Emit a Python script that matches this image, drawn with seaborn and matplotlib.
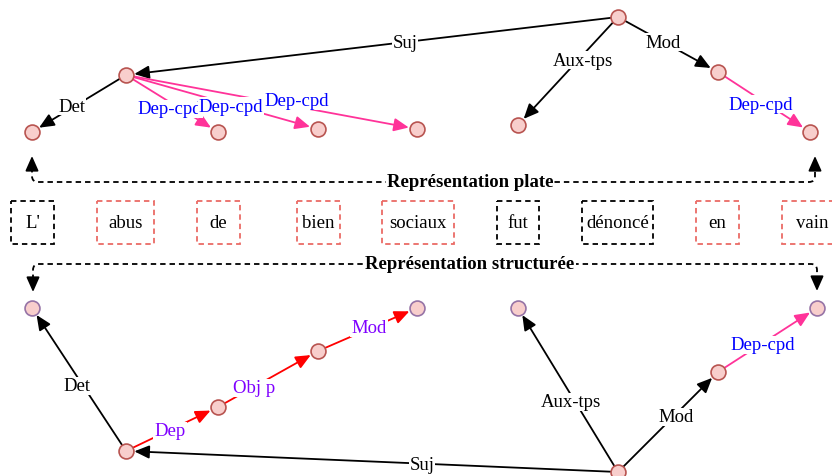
import matplotlib.pyplot as plt
import pandas as pd
import seaborn as sns
from matplotlib.patches import FancyArrowPatch, PathPatch, Rectangle
from matplotlib.path import Path

sns.set_theme(style='white')
plt.rcParams['font.family'] = ['Liberation Serif', 'DejaVu Serif']
plt.rcParams['text.color'] = 'black'

# node layout (pixel coordinates, y going down)
names = ["dénoncé", "abus", "L'", "de", "bien", "sociaux", "fut", "en", "vain"]
top_x = [618, 126, 32, 218, 318, 417, 518, 718, 810]
top_y = [18, 76, 133, 133, 130, 130, 126, 73, 133]
bot_x = [618, 126, 32, 218, 318, 417, 518, 718, 817]
bot_y = [473, 452, 309, 408, 352, 309, 309, 373, 309]
bot_leaf = [False, False, True, False, False, True, True, False, True]

# dependencies: (head, dependent, relation)
top_edges = [("dénoncé", "abus", "Suj"), ("abus", "L'", "Det"),
             ("abus", "de", "Dep-cpd"), ("abus", "bien", "Dep-cpd"),
             ("abus", "sociaux", "Dep-cpd"), ("dénoncé", "fut", "Aux-tps"),
             ("dénoncé", "en", "Mod"), ("en", "vain", "Dep-cpd")]
top_lab_x = [405, 72, 170, 231, 297, 583, 663, 761]
top_lab_y = [43, 107, 110, 107, 102, 61, 43, 105]
top_kind = ['plain', 'plain', 'cpd', 'cpd', 'cpd', 'plain', 'plain', 'cpd']

bot_edges = [("dénoncé", "abus", "Suj"), ("abus", "L'", "Det"),
             ("abus", "de", "Dep"), ("de", "bien", "Obj p"),
             ("bien", "sociaux", "Mod"), ("dénoncé", "fut", "Aux-tps"),
             ("dénoncé", "en", "Mod"), ("en", "vain", "Dep-cpd")]
bot_lab_x = [422, 77, 170, 254, 369, 571, 676, 763]
bot_lab_y = [466, 387, 432, 389, 329, 403, 418, 346]
bot_kind = ['plain', 'plain', 'chain', 'chain', 'chain', 'plain', 'plain', 'cpd']

# the flat sentence
words = ["L'", "abus", "de", "bien", "sociaux", "fut", "dénoncé", "en", "vain"]
box_x0 = [11, 97, 197, 297, 382, 497, 582, 696, 782]
box_x1 = [54, 154, 240, 340, 454, 539, 653, 739, 842]
box_black = [True, False, False, False, False, True, True, False, False]

line_col = {'plain': 'black', 'cpd': '#FF3399', 'chain': '#FF0000'}
text_col = {'plain': 'black', 'cpd': '#0000FF', 'chain': '#7F00FF'}
FS = 13.5

fig = plt.figure(figsize=(8.32, 4.77), dpi=100)
ax = fig.add_axes([0, 0, 1, 1])


def draw_edges(xs, ys, edges, lab_x, lab_y, kinds):
    pos = {n: (x, y) for n, x, y in zip(names, xs, ys)}
    for i, (h, d, rel) in enumerate(edges):
        k = kinds[i]
        arr = FancyArrowPatch(pos[h], pos[d], arrowstyle='-|>,head_length=0.9,head_width=0.4',
                              mutation_scale=10, color=line_col[k], lw=1.3,
                              shrinkA=5.5, shrinkB=6, zorder=2)
        ax.add_patch(arr)
        ax.text(lab_x[i], lab_y[i], rel, color=text_col[k], fontsize=FS,
                ha='center', va='center', zorder=3 + i,
                bbox=dict(boxstyle='square,pad=0.05', fc='white', ec='none'))


draw_edges(top_x, top_y, top_edges, top_lab_x, top_lab_y, top_kind)
draw_edges(bot_x, bot_y, bot_edges, bot_lab_x, bot_lab_y, bot_kind)

# nodes
nodes = pd.DataFrame({'x': top_x + bot_x, 'y': top_y + bot_y,
                      'leaf': [False] * len(top_x) + bot_leaf})
sns.scatterplot(data=nodes[~nodes['leaf']], x='x', y='y', s=115, color='#F8CECC',
                edgecolor='#B85450', linewidth=1.2, zorder=20, ax=ax, legend=False)
sns.scatterplot(data=nodes[nodes['leaf']], x='x', y='y', s=115, color='#F8CECC',
                edgecolor='#9673A6', linewidth=1.2, zorder=20, ax=ax, legend=False)

# word boxes
for w, x0, x1, blk in zip(words, box_x0, box_x1, box_black):
    ax.add_patch(Rectangle((x0, 202), x1 - x0, 43, fill=False, lw=1.3,
                           ec='black' if blk else '#EA6B66', ls=(0, (3, 2.2))))
    ax.text((x0 + x1) / 2, 224, w, fontsize=FS, ha='center', va='center')


# dashed connectors between the representations
def connector(yline, xl, xr, yend, tip_l, tip_r, label):
    s = 1 if yend > yline else -1
    verts = [(xl, yend), (xl, yline + s * 6), (xl, yline), (xl + 6, yline),
             (xr - 6, yline), (xr, yline), (xr, yline + s * 6), (xr, yend)]
    codes = [Path.MOVETO, Path.LINETO, Path.CURVE3, Path.CURVE3,
             Path.LINETO, Path.CURVE3, Path.CURVE3, Path.LINETO]
    ax.add_patch(PathPatch(Path(verts, codes), fill=False, lw=1.3, ls=(0, (3, 2.2)),
                           ec='black'))
    for xx, tip in ((xl, tip_l), (xr, tip_r)):
        ax.add_patch(FancyArrowPatch((xx, yend), (xx, tip),
                                     arrowstyle='-|>,head_length=0.9,head_width=0.4',
                                     mutation_scale=10, color='black', lw=1.3,
                                     shrinkA=0, shrinkB=0))
    ax.text(470, yline, label, fontsize=FS, fontweight='bold', ha='center', va='center',
            bbox=dict(boxstyle='square,pad=0.05', fc='white', ec='none'))


connector(183, 32, 815, 168, 157, 157, 'Représentation plate')
connector(265, 33, 817, 281, 293, 292, 'Représentation structurée')

ax.set_xlim(0, 832)
ax.set_ylim(477, 0)
ax.axis('off')
fig.savefig('out.png', dpi=100)
